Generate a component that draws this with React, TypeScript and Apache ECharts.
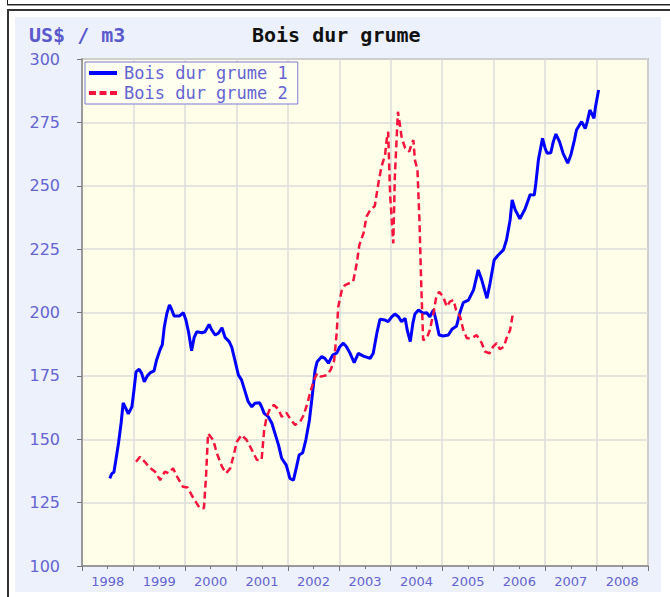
import React, { useEffect, useRef } from "react";
import * as echarts from "echarts";

// ---- data (decimal years, US$ / m3) ----
const yearLabels = ["1998", "1999", "2000", "2001", "2002", "2003", "2004", "2005", "2006", "2007", "2008"];

const g1Years = [
  1998.54, 1998.58, 1998.62, 1998.66, 1998.71, 1998.76, 1998.8, 1998.85, 1998.9, 1998.97,
  1999.01, 1999.05, 1999.11, 1999.16, 1999.21, 1999.27, 1999.33, 1999.4, 1999.45, 1999.52,
  1999.56, 1999.6, 1999.65, 1999.7, 1999.74, 1999.79, 1999.89, 1999.97, 2000.02, 2000.07,
  2000.13, 2000.18, 2000.23, 2000.33, 2000.39, 2000.47, 2000.52, 2000.59, 2000.65, 2000.72,
  2000.78, 2000.86, 2000.91, 2000.97, 2001.04, 2001.1, 2001.17, 2001.23, 2001.3, 2001.36,
  2001.45, 2001.49, 2001.54, 2001.62, 2001.69, 2001.75, 2001.82, 2001.88, 2001.97, 2002.04,
  2002.11, 2002.17, 2002.22, 2002.29, 2002.35, 2002.42, 2002.48, 2002.53, 2002.57, 2002.66,
  2002.72, 2002.79, 2002.87, 2002.95, 2003.01, 2003.08, 2003.14, 2003.21, 2003.29, 2003.37,
  2003.47, 2003.6, 2003.66, 2003.73, 2003.79, 2003.89, 2003.95, 2004.02, 2004.08, 2004.15,
  2004.21, 2004.28, 2004.32, 2004.38, 2004.43, 2004.47, 2004.54, 2004.63, 2004.7, 2004.76,
  2004.83, 2004.88, 2004.94, 2005.02, 2005.12, 2005.19, 2005.28, 2005.35, 2005.41, 2005.51,
  2005.61, 2005.7, 2005.77, 2005.87, 2005.93, 2006.01, 2006.09, 2006.19, 2006.25, 2006.32,
  2006.36, 2006.42, 2006.51, 2006.61, 2006.71, 2006.79, 2006.82, 2006.87, 2006.95, 2007.0,
  2007.04, 2007.11, 2007.16, 2007.21, 2007.28, 2007.35, 2007.44, 2007.5, 2007.57, 2007.61,
  2007.71, 2007.78, 2007.82, 2007.87, 2007.93, 2007.95, 2007.98, 2008.04,
];
const g1Values = [
  134.6, 136.5, 137, 142, 148.5, 156.4, 164.3, 162.3, 160, 162.8,
  169.4, 176.6, 177.6, 176, 172.7, 175, 176.3, 177, 181.3, 185.5,
  187.2, 194.4, 199.7, 203, 201.3, 198.6, 198.6, 199.9, 197, 192.4,
  184.9, 190.2, 192.4, 192, 192.4, 195.3, 193.1, 191.1, 191.8, 194,
  190.2, 188.5, 186.3, 181.3, 175.3, 173.4, 168.8, 164.8, 162.8, 164.2,
  164.4, 162.8, 160.2, 158.9, 156.3, 152.3, 147.7, 142.5, 139.8, 134.6,
  133.9, 139.2, 143.8, 144.7, 149.7, 157.6, 168.1, 177.3, 180.6, 182.6,
  181.9, 180, 183.2, 184, 186.5, 187.9, 186.5, 183.9, 180.2, 183.9,
  182.8, 181.9, 183.9, 191.8, 197.3, 197, 196.4, 198.3, 199.4, 198.3,
  196.4, 197.7, 193.1, 188.5, 195.7, 199.4, 201, 199.7, 199.9, 198.3,
  201, 197, 191.1, 190.7, 191.1, 193.4, 194.7, 200.3, 203.9, 204.9,
  208.9, 216.8, 212.8, 205.6, 211.5, 220.7, 222.7, 224.7, 228.6, 236.5,
  244.4, 240.5, 237, 240.8, 246.5, 246.3, 250.9, 260.2, 268.7, 264.8,
  262.8, 263, 267.4, 270.4, 267.4, 262.8, 258.9, 262.1, 268, 272,
  275.3, 272.6, 275.3, 279.9, 277.5, 276.6, 281.2, 287.8,
];

const g2Years = [
  1999.05, 1999.13, 1999.22, 1999.31, 1999.42, 1999.52, 1999.61, 1999.68, 1999.77, 1999.85,
  1999.96, 2000.05, 2000.13, 2000.23, 2000.29, 2000.37, 2000.41, 2000.45, 2000.55, 2000.62,
  2000.72, 2000.8, 2000.88, 2000.94, 2001.01, 2001.1, 2001.2, 2001.3, 2001.4, 2001.49,
  2001.54, 2001.59, 2001.67, 2001.73, 2001.82, 2001.88, 2001.97, 2002.04, 2002.14, 2002.24,
  2002.31, 2002.38, 2002.44, 2002.51, 2002.57, 2002.64, 2002.76, 2002.83, 2002.9, 2002.95,
  2002.98, 2003.05, 2003.11, 2003.27, 2003.34, 2003.39, 2003.47, 2003.53, 2003.6, 2003.69,
  2003.76, 2003.82, 2003.89, 2003.92, 2003.95, 2003.99, 2004.02, 2004.05, 2004.08, 2004.12,
  2004.14, 2004.17, 2004.21, 2004.28, 2004.36, 2004.41, 2004.44, 2004.47, 2004.52, 2004.56,
  2004.59, 2004.63, 2004.7, 2004.76, 2004.83, 2004.88, 2004.94, 2005.02, 2005.09, 2005.15,
  2005.22, 2005.27, 2005.35, 2005.41, 2005.48, 2005.57, 2005.67, 2005.77, 2005.83, 2005.92,
  2005.99, 2006.06, 2006.12, 2006.2, 2006.25, 2006.32, 2006.37,
];
const g2Values = [
  141.1, 143.1, 141.1, 138.9, 137.2, 133.9, 137.2, 136.6, 138.5, 135.2,
  131.3, 131, 128, 124.7, 122.8, 122.8, 135.2, 152.3, 149.7, 144.5,
  139.2, 136.6, 138.5, 143.1, 149, 151.7, 149.7, 145.8, 141.8, 141.8,
  153.6, 158.9, 162.8, 163.5, 161.8, 158.9, 160.5, 158.3, 155.6, 156.9,
  159.6, 164.2, 168.8, 173.4, 176, 174.7, 175.3, 177.3, 181, 192,
  202.3, 208.9, 210.8, 212.2, 219.4, 226.6, 231.2, 237.8, 240.4, 242,
  251, 257.5, 262.1, 268, 271.3, 245.7, 236.5, 227.3, 253.6, 270.7,
  279.2, 275.3, 269.4, 264.8, 263.5, 266.8, 268, 260.2, 256.2, 235.2,
  212.8, 189.1, 189.8, 193.1, 199.7, 205.6, 208.2, 206.2, 202.3, 204.3,
  204.9, 201, 198.3, 193.1, 189.8, 189.8, 191.1, 187.9, 184.6, 183.9,
  186.5, 187.9, 185.5, 186.5, 189.8, 193.1, 199,
];

const seriesNames = ["Bois dur grume 1", "Bois dur grume 2"];

const zip = (xs: number[], ys: number[]) => xs.map((x, i) => [x, ys[i]]);

const LABEL_BLUE = "#6464d2";
const BLUE = "#0000ff";
const RED = "#f5143c";

export default function App() {
  const ref = useRef<HTMLDivElement>(null);

  useEffect(() => {
    if (!ref.current) return;
    const chart = echarts.init(ref.current, undefined, { renderer: "svg" });
    chart.setOption({
      animation: false,
      backgroundColor: "#edf1fb",
      title: [
        {
          text: "US$ / m3",
          left: 14,
          top: 8,
          padding: 0,
          textStyle: { fontFamily: "DejaVu Sans Mono", fontSize: 20, fontWeight: "bold", color: "#5a5acd", lineHeight: 20 },
        },
        {
          text: "Bois dur grume",
          left: 237,
          top: 8,
          padding: 0,
          textStyle: { fontFamily: "DejaVu Sans Mono", fontSize: 20, fontWeight: "bold", color: "#111111", lineHeight: 20 },
        },
      ],
      legend: {
        orient: "vertical",
        left: 70,
        top: 45,
        padding: [2, 10, 2, 4],
        itemGap: 2,
        itemWidth: 28,
        itemHeight: 4,
        backgroundColor: "#fffff0",
        borderColor: "#7b7bd6",
        borderWidth: 1,
        textStyle: { fontFamily: "DejaVu Sans Mono", fontSize: 17, color: LABEL_BLUE, lineHeight: 18, padding: [0, 0, 0, 2] },
        data: [
          { name: seriesNames[0], icon: "rect", itemStyle: { color: BLUE } },
          {
            name: seriesNames[1],
            icon: "path://M0,0h7v4h-7z M10.5,0h7v4h-7z M21,0h7v4h-7z",
            itemStyle: { color: RED },
          },
        ],
      },
      grid: {
        left: 67,
        top: 42,
        width: 566,
        height: 507,
        show: true,
        backgroundColor: "#fffee8",
        borderColor: "#8c8c8c",
        borderWidth: 1.5,
      },
      xAxis: [
        {
          type: "value",
          min: 1998,
          max: 2009,
          interval: 1,
          position: "bottom",
          axisLine: { show: true, lineStyle: { color: "#888888", width: 1.5 } },
          axisTick: { show: true, length: 5, lineStyle: { color: "#777777" } },
          minorTick: { show: true, splitNumber: 2, length: 3, lineStyle: { color: "#777777" } },
          axisLabel: { show: false },
          splitLine: { show: true, lineStyle: { color: "#dcdcdc", width: 1.5 } },
        },
        {
          type: "category",
          data: yearLabels,
          position: "bottom",
          boundaryGap: true,
          axisLine: { show: false },
          axisTick: { show: false },
          splitLine: { show: false },
          axisLabel: { interval: 0, margin: 9, fontSize: 13, fontFamily: "DejaVu Sans", color: LABEL_BLUE },
        },
      ],
      yAxis: {
        type: "value",
        min: 100,
        max: 300,
        interval: 25,
        axisLine: { show: true, lineStyle: { color: "#888888", width: 1.5 } },
        axisTick: { show: true, length: 5, lineStyle: { color: "#777777" } },
        axisLabel: { margin: 22, fontSize: 16, fontFamily: "DejaVu Sans", color: LABEL_BLUE },
        splitLine: { show: true, lineStyle: { color: "#dcdcdc", width: 1.5 } },
      },
      series: [
        {
          name: seriesNames[0],
          type: "line",
          xAxisIndex: 0,
          data: zip(g1Years, g1Values),
          showSymbol: false,
          symbol: "none",
          itemStyle: { color: BLUE },
          lineStyle: { color: BLUE, width: 3 },
        },
        {
          name: seriesNames[1],
          type: "line",
          xAxisIndex: 0,
          data: zip(g2Years, g2Values),
          showSymbol: false,
          symbol: "none",
          itemStyle: { color: RED },
          lineStyle: { color: RED, width: 2.5, type: [7, 4] },
        },
      ],
    });
    return () => chart.dispose();
  }, []);

  return (
    <div style={{ position: "absolute", left: 0, top: 0, width: 670, height: 597, background: "#ffffff", overflow: "hidden" }}>
      <div
        style={{
          position: "absolute",
          left: 7,
          top: -10,
          width: 700,
          height: 15,
          boxSizing: "border-box",
          borderLeft: "1px solid #222",
          borderBottom: "1px solid #222",
          boxShadow: "0 1px 0 #999",
        }}
      />
      <div
        style={{
          position: "absolute",
          left: 7,
          top: 9,
          width: 700,
          height: 700,
          boxSizing: "border-box",
          borderLeft: "2px solid #333",
          borderTop: "2px solid #333",
        }}
      />
      <div ref={ref} style={{ position: "absolute", left: 15, top: 17, width: 646, height: 575 }} />
    </div>
  );
}
